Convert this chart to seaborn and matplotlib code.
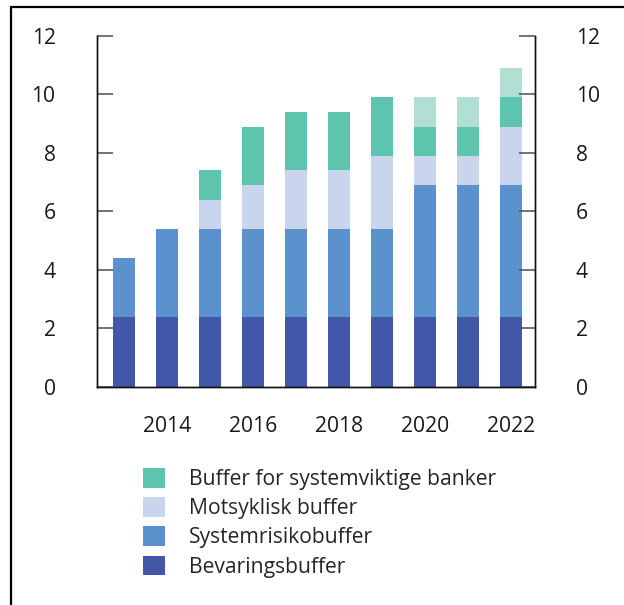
import matplotlib
matplotlib.use("Agg")
import matplotlib.pyplot as plt
from matplotlib.lines import Line2D
from matplotlib.patches import Patch
import seaborn as sns
import pandas as pd
import numpy as np

# Capital buffer requirements (percent), by year
years = ["2013", "2014", "2015", "2016", "2017", "2018", "2019", "2020", "2021", "2022"]
bevaringsbuffer = [2.4, 2.4, 2.4, 2.4, 2.4, 2.4, 2.4, 2.4, 2.4, 2.4]
systemrisikobuffer = [2.0, 3.0, 3.0, 3.0, 3.0, 3.0, 3.0, 4.5, 4.5, 4.5]
motsyklisk_buffer = [0.0, 0.0, 1.0, 1.5, 2.0, 2.0, 2.5, 1.0, 1.0, 2.0]
systemviktige = [0.0, 0.0, 1.0, 2.0, 2.0, 2.0, 2.0, 1.0, 1.0, 1.0]
systemviktige_tillegg = [0.0, 0.0, 0.0, 0.0, 0.0, 0.0, 0.0, 1.0, 1.0, 1.0]

series_names = [
    "Bevaringsbuffer",
    "Systemrisikobuffer",
    "Motsyklisk buffer",
    "Buffer for systemviktige banker",
    "Systemviktige (tillegg)",
]
series_values = [bevaringsbuffer, systemrisikobuffer, motsyklisk_buffer,
                 systemviktige, systemviktige_tillegg]
colors = ["#4257a8", "#5b91cd", "#c9d5ed", "#5fc4ae", "#b1dfd4"]
xtick_years = ["2014", "2016", "2018", "2020", "2022"]
yticks = [0, 2, 4, 6, 8, 10, 12]

sns.set_style("white")
plt.rcParams["font.family"] = ["Open Sans", "DejaVu Sans"]
FS = 15.2

# Long-form table with cumulative tops for stacking
rows = []
for name, vals in zip(series_names, series_values):
    for yr, v in zip(years, vals):
        rows.append({"year": yr, "series": name, "value": v})
df = pd.DataFrame(rows)
df["series"] = pd.Categorical(df["series"], categories=series_names, ordered=True)
df = df.sort_values(["year", "series"])
df["top"] = df.groupby("year")["value"].cumsum()

fig = plt.figure(figsize=(6.24, 6.05), dpi=100)
ax = fig.add_axes([0.156, 0.3608, 0.702, 0.5797])

# Draw from the highest layer down so lower segments cover upper ones
for name, color in reversed(list(zip(series_names, colors))):
    sub = df[(df["series"] == name) & (df["value"] > 0)]
    sns.barplot(data=sub, x="year", y="top", order=years, color=color,
                saturation=1, width=0.51, linewidth=0, errorbar=None, ax=ax)

ax.set_xlim(-0.63, 9.56)
ax.set_ylim(0, 12)
ax.set_xlabel("")
ax.set_ylabel("")
ax.set_xticks([years.index(y) for y in xtick_years])
ax.set_xticklabels(xtick_years, fontsize=FS, color="#1a1a1a")
ax.tick_params(axis="x", length=0, pad=21)
ax.set_yticks(yticks)
ax.set_yticklabels([str(t) for t in yticks], fontsize=FS, color="#1a1a1a")
ax.tick_params(axis="y", direction="in", length=11.5, width=1.1,
               color="#4d4d4d", pad=30)

ax2 = ax.twinx()
ax2.set_ylim(0, 12)
ax2.set_yticks(yticks)
ax2.set_yticklabels([str(t) for t in yticks], fontsize=FS, color="#1a1a1a")
ax2.tick_params(axis="y", direction="in", length=11.5, width=1.1,
                color="#4d4d4d", pad=29)

for a in (ax, ax2):
    a.spines["top"].set_visible(False)
    for s in ("left", "right", "bottom"):
        a.spines[s].set_color("#111111")
        a.spines[s].set_linewidth(1.0)
    a.grid(False)

# Legend (top layer first, matching the stacking order)
legend_order = [3, 2, 1, 0]
handles = [Patch(facecolor=colors[i], edgecolor="none") for i in legend_order]
labels = [series_names[i] for i in legend_order]
fig.legend(handles, labels, loc="upper left",
           bbox_to_anchor=(143 / 624, 1 - 468 / 605), frameon=False,
           fontsize=FS, handlelength=1.04, handleheight=1.05,
           handletextpad=1.14, labelspacing=0.34, borderaxespad=0,
           borderpad=0)

# Frame lines along the left and top edges
fig.add_artist(Line2D([11 / 624, 11 / 624], [0, 1 - 7 / 605],
                      transform=fig.transFigure, color="black", lw=1.6))
fig.add_artist(Line2D([11 / 624, 1], [1 - 7 / 605, 1 - 7 / 605],
                      transform=fig.transFigure, color="black", lw=1.6))

fig.savefig("out.png", dpi=100)
